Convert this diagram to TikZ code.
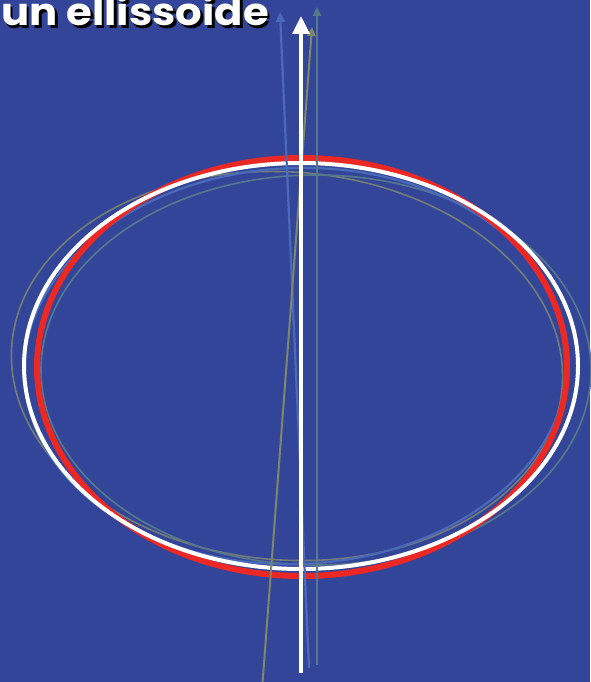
\documentclass[tikz,border=0pt]{standalone}
\usepackage{fontspec}
\newfontfamily\titlefont{Poppins}
\usetikzlibrary{arrows.meta}
\definecolor{bgblue}{RGB}{51,69,153}
\definecolor{axblue}{RGB}{75,105,185}
\definecolor{olive}{RGB}{125,135,105}
\definecolor{teal}{RGB}{85,120,140}
\definecolor{greyell}{RGB}{115,125,120}
\definecolor{redell}{RGB}{235,40,35}
\tikzset{
  axis/.style={line width=#1, -{Triangle[width=4.2*#1, length=4.5*#1]}},
  ell/.style={line width=#1},
}
\newcommand{\shadowtext}[1]{\makebox[0pt][l]{\hspace{2.5pt}\raisebox{-2.5pt}{\color{black}#1}}#1}
\begin{document}
\begin{tikzpicture}[x=1pt,y=-1pt]
\fill[bgblue] (0,0) rectangle (590,682);
\useasboundingbox (0,0) rectangle (590,682);
% faint ellipses
\draw[ell=1.6, greyell, rotate around={-4.3:(287,366)}] (287,366) ellipse [x radius=276, y radius=194];
\draw[ell=1.6, teal] (316,370) ellipse [x radius=275, y radius=195];
\draw[ell=2.2, axblue, rotate around={2.5:(296,366)}] (296,366) ellipse [x radius=272, y radius=198];
% red and white ellipses
\draw[ell=6, redell] (302,367) ellipse [x radius=265, y radius=209];
\draw[ell=4, white] (301,366) ellipse [x radius=277, y radius=203];
% axes
\coordinate (wb) at (301,673); \coordinate (wt) at (301,16);
\coordinate (bb) at (309,668); \coordinate (bt) at (280,12);
\coordinate (ob) at (262,690); \coordinate (ot) at (312,27);
\coordinate (tb) at (317,665); \coordinate (tt) at (317,7);
\draw[axis=2.2, axblue] (bb) -- (bt);
\draw[axis=2, teal] (tb) -- (tt);
\draw[axis=2, olive] (ob) -- (ot);
\draw[axis=4, white] (wb) -- (wt);
% title
\node[anchor=base west, inner sep=0, text=white, xscale=1.1, font=\titlefont\bfseries\fontsize{38}{38}\selectfont] (title) at (1,26) {\shadowtext{un ellissoide}};
\end{tikzpicture}
\end{document}
